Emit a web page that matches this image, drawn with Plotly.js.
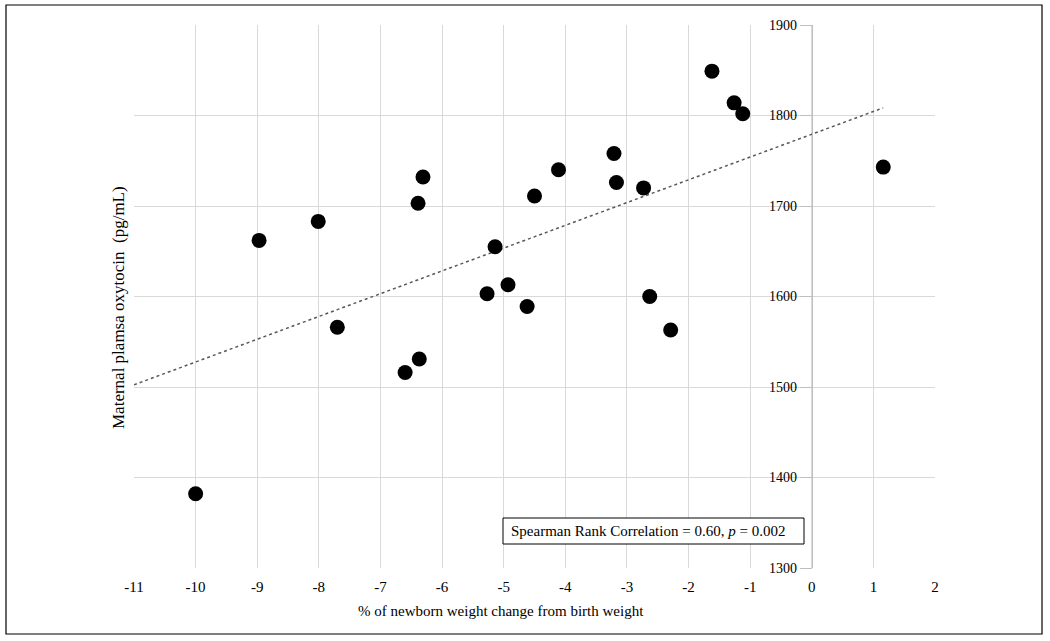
<!DOCTYPE html>
<html>
<head>
<meta charset="utf-8">
<script src="https://cdn.plot.ly/plotly-3.0.1.min.js"></script>
<style>html,body{margin:0;padding:0;background:#fff;}#chart{width:1050px;height:641px;}</style>
</head>
<body>
<div id="chart"></div>
<script>
// % of newborn weight change from birth weight
const weightChange = [-10.0, -8.97, -8.01, -7.70, -6.60, -6.37, -6.39, -6.31, -5.27, -5.14, -4.93, -4.62, -4.50, -4.11, -3.21, -3.17, -2.73, -2.63, -2.29, -1.62, -1.26, -1.12, 1.16];
// Maternal plasma oxytocin (pg/mL)
const oxytocin = [1382, 1662, 1683, 1566, 1516, 1531, 1703, 1732, 1603, 1655, 1613, 1589, 1711, 1740, 1758, 1726, 1720, 1600, 1563, 1849, 1814, 1802, 1743];
const xTicks = [-11, -10, -9, -8, -7, -6, -5, -4, -3, -2, -1, 0, 1, 2];
const yTicks = [1300, 1400, 1500, 1600, 1700, 1800, 1900];
const xTitle = '% of newborn weight change from birth weight';
const yTitle = 'Maternal plamsa oxytocin  (pg/mL)';
const statText = 'Spearman Rank Correlation = 0.60, <i>p</i> = 0.002';

// least-squares linear trendline (as in the spreadsheet chart)
const n = weightChange.length;
const mx = weightChange.reduce((a, b) => a + b, 0) / n;
const my = oxytocin.reduce((a, b) => a + b, 0) / n;
let sxy = 0, sxx = 0;
for (let i = 0; i < n; i++) { sxy += (weightChange[i] - mx) * (oxytocin[i] - my); sxx += (weightChange[i] - mx) ** 2; }
const slope = sxy / sxx, icpt = my - slope * mx;
const trendX = [xTicks[0], Math.max(...weightChange)];
const trendY = trendX.map(x => icpt + slope * x);

const W = 1050, H = 641, L = 134, R = 115, T = 25, B = 73;
const pw = W - L - R, ph = H - T - B;
const px = v => (v - L) / pw;
const py = v => (H - B - v) / ph;

const serif = 'Liberation Serif, Times New Roman, serif';

const traces = [
  {x: trendX, y: trendY, mode: 'lines', type: 'scatter', line: {color: '#595959', width: 1.5, dash: 'dot'}, hoverinfo: 'skip', showlegend: false},
  {x: weightChange, y: oxytocin, mode: 'markers', type: 'scatter', marker: {color: '#000', size: 15}, showlegend: false}
];

const layout = {
  width: W, height: H,
  margin: {l: L, r: R, t: T, b: B},
  paper_bgcolor: '#fff', plot_bgcolor: '#fff',
  font: {family: serif, size: 14, color: '#000'},
  showlegend: false,
  xaxis: {range: [-11, 2], tickvals: xTicks, ticktext: xTicks.map(String), showgrid: true, gridcolor: '#d9d9d9', gridwidth: 1, zeroline: false, showline: false, ticks: '', ticklabelstandoff: 8, tickfont: {family: serif, size: 15}, fixedrange: true},
  yaxis: {range: [1300, 1900], tickvals: yTicks, ticktext: yTicks.map(String), showgrid: true, gridcolor: '#d9d9d9', gridwidth: 1, zeroline: false, showline: true, linecolor: '#bfbfbf', linewidth: 1, ticks: 'outside', ticklen: 12, tickcolor: '#bfbfbf', anchor: 'free', position: 11 / 13, tickfont: {family: serif, size: 14}, fixedrange: true},
  annotations: [
    {text: xTitle, xref: 'paper', yref: 'paper', x: px(501), y: py(611), showarrow: false, font: {family: serif, size: 15}, xanchor: 'center', yanchor: 'middle'},
    {text: yTitle, xref: 'paper', yref: 'paper', x: px(118), y: py(308), showarrow: false, textangle: -90, font: {family: serif, size: 17}, xanchor: 'center', yanchor: 'middle'},
    {text: statText, xref: 'paper', yref: 'paper', x: px(509), y: py(531), showarrow: false, font: {family: serif, size: 15}, xanchor: 'left', yanchor: 'middle'}
  ],
  shapes: [
    {type: 'rect', xref: 'paper', yref: 'paper', x0: px(503), x1: px(804), y0: py(544), y1: py(518), line: {color: '#000', width: 1}, fillcolor: '#fff', layer: 'above'},
    {type: 'rect', xref: 'paper', yref: 'paper', x0: px(6), x1: px(1042), y0: py(634), y1: py(5), line: {color: '#000', width: 1.2}, fillcolor: 'rgba(0,0,0,0)', layer: 'above'}
  ]
};

Plotly.newPlot('chart', traces, layout, {displayModeBar: false, staticPlot: true});
</script>
</body>
</html>
